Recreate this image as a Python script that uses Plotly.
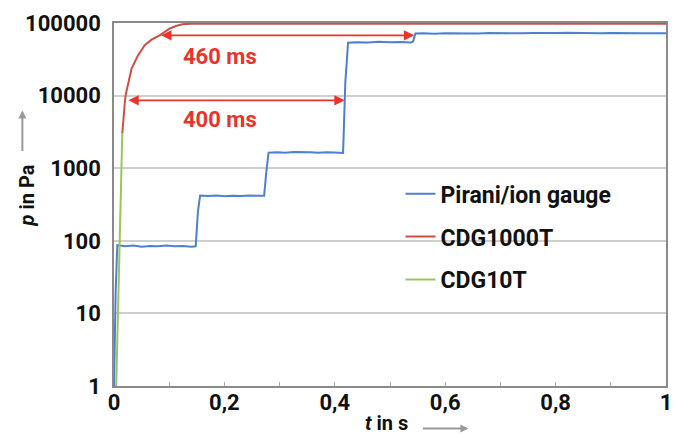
import math
import plotly.graph_objects as go

# ---------------- data ----------------
t_pirani = [0.000, 0.003, 0.006, 0.020, 0.035, 0.050, 0.065, 0.080, 0.095, 0.110, 0.125, 0.140, 0.148,
            0.152, 0.156, 0.170, 0.185, 0.200, 0.215, 0.230, 0.245, 0.260, 0.272,
            0.276, 0.280, 0.295, 0.310, 0.325, 0.340, 0.355, 0.370, 0.385, 0.400, 0.415,
            0.419, 0.424, 0.440, 0.460, 0.480, 0.500, 0.520, 0.538, 0.542,
            0.546, 0.560, 0.580, 0.600, 0.620, 0.640, 0.660, 0.680, 0.700, 0.720, 0.740,
            0.760, 0.780, 0.800, 0.820, 0.840, 0.860, 0.880, 0.900, 0.920, 0.940, 0.960, 0.980, 1.000]
p_pirani = [1, 20, 87, 84, 86, 83, 85, 84, 86, 84, 85, 83, 84,
            250, 420, 415, 422, 412, 418, 414, 420, 413, 416,
            900, 1640, 1660, 1630, 1670, 1645, 1655, 1635, 1660, 1640, 1620,
            15000, 53500, 54500, 53800, 55000, 54200, 54800, 54000, 56000,
            71500, 72000, 71200, 72500, 71800, 72300, 71500, 72600, 71900, 72800, 72100,
            73000, 72400, 72800, 73500, 72600, 73200, 72500, 72900, 72300, 72700, 72100, 72500, 72200]

t_cdg1000 = [0.0150, 0.0160, 0.0197, 0.0210, 0.0257, 0.0318, 0.0436, 0.0557, 0.0680, 0.0826, 0.1005,
             0.1120, 0.1239, 0.1400, 0.2000, 1.0000]
p_cdg1000 = [3000, 3900, 8170, 10100, 15400, 23500, 35900, 49300, 59000, 67600, 83800,
             91000, 96000, 98000, 98000, 98000]

t_cdg10 = [0.0040, 0.0095, 0.0150]
p_cdg10 = [1, 55, 3000]

series_names = ["Pirani/ion gauge", "CDG1000T", "CDG10T"]
y_tickvals = [1, 10, 100, 1000, 10000, 100000]
y_ticktext = ["1", "10", "100", "1000", "10000", "100000"]
x_tickvals = [0, 0.2, 0.4, 0.6, 0.8, 1.0]

# arrows: (t_left, t_right, p, label, label_t, label_p)
arrows = [
    (0.0826, 0.544, 67600, "460 ms", 0.192, 34800),
    (0.0233, 0.418, 8600, "400 ms", 0.192, 4710),
]

# ---------------- styling ----------------
FONT = "Roboto, Liberation Sans, sans-serif"
BLUE = "#4f7fd0"
RED = "#cf4f47"
GREEN = "#9bc45a"
ARROW_RED = "#e8342c"

fig = go.Figure()
fig.add_trace(go.Scatter(x=t_pirani, y=p_pirani, mode="lines", name=series_names[0],
                         line=dict(color=BLUE, width=2), legendgroup="a"))
fig.add_trace(go.Scatter(x=t_cdg1000, y=p_cdg1000, mode="lines", name=series_names[1],
                         line=dict(color=RED, width=2), legendgroup="b"))
fig.add_trace(go.Scatter(x=t_cdg10, y=p_cdg10, mode="lines", name=series_names[2],
                         line=dict(color=GREEN, width=2), legendgroup="c"))

annotations = []
for tl, tr, p, lab, lt, lp in arrows:
    annotations.append(dict(x=tr, y=math.log10(p), ax=tl, ay=math.log10(p), xref="x", yref="y",
                            axref="x", ayref="y", showarrow=True, arrowhead=2, arrowside="end+start",
                            arrowsize=1.3, arrowwidth=1.6, arrowcolor=ARROW_RED, text=""))
    annotations.append(dict(x=lt, y=math.log10(lp), xref="x", yref="y", text=lab, showarrow=False,
                            xanchor="center", yanchor="middle",
                            font=dict(family=FONT, size=22, color=ARROW_RED, weight="bold")))

# axis titles with arrows
annotations.append(dict(x=-0.157, y=0.526, xref="paper", yref="paper", text="<i>p</i> in Pa",
                        textangle=-90, showarrow=False, xanchor="center", yanchor="middle",
                        font=dict(family=FONT, size=20, color="#111", weight="bold")))
annotations.append(dict(x=-0.166, y=0.759, xref="paper", yref="paper", text="", showarrow=True,
                        ax=0, ay=42, arrowhead=2, arrowsize=0.8, arrowwidth=2, arrowcolor="#999999"))
annotations.append(dict(x=0.494, y=-0.102, xref="paper", yref="paper", text="<i>t</i> in s",
                        showarrow=False, xanchor="center", yanchor="middle",
                        font=dict(family=FONT, size=20, color="#111", weight="bold")))
annotations.append(dict(x=0.642, y=-0.117, xref="paper", yref="paper", text="", showarrow=True,
                        ax=-47, ay=0, arrowhead=2, arrowsize=0.8, arrowwidth=2, arrowcolor="#999999"))

fig.update_layout(
    width=673, height=436,
    margin=dict(l=114, r=7, t=23, b=50, autoexpand=False),
    paper_bgcolor="white", plot_bgcolor="white",
    separators=",.",
    font=dict(family=FONT, size=23, color="#111"),
    showlegend=True,
    legend=dict(x=0.519, y=0.589, xanchor="left", yanchor="top", bgcolor="rgba(0,0,0,0)",
                font=dict(family=FONT, size=23, color="#111", weight="bold"),
                tracegroupgap=10, itemwidth=30),
    annotations=annotations,
)
fig.update_xaxes(range=[0, 1], tickvals=x_tickvals, showgrid=False, zeroline=False, automargin=False,
                 showline=True, linecolor="#8a8a8a", linewidth=1.5, mirror=True,
                 ticks="inside", ticklen=4, tickcolor="#aaaaaa", ticklabeloverflow="allow",
                 ticklabelstandoff=-4,
                 minor=dict(dtick=0.1, ticks="inside", ticklen=4, tickcolor="#aaaaaa", showgrid=False),
                 tickfont=dict(family=FONT, size=22, color="#111", weight="bold"))
fig.update_yaxes(type="log", range=[0, 5], tickvals=y_tickvals, ticktext=y_ticktext, automargin=False,
                 showgrid=True, gridcolor="#cfcfcf", gridwidth=2, zeroline=False,
                 showline=True, linecolor="#8a8a8a", linewidth=1.5, mirror=True,
                 ticks="", ticklabelstandoff=7, ticklabeloverflow="allow",
                 tickfont=dict(family=FONT, size=22, color="#111", weight="bold"))

fig.write_html("out.html", config={"displayModeBar": False},
               post_script="document.body.style.margin='0';")
